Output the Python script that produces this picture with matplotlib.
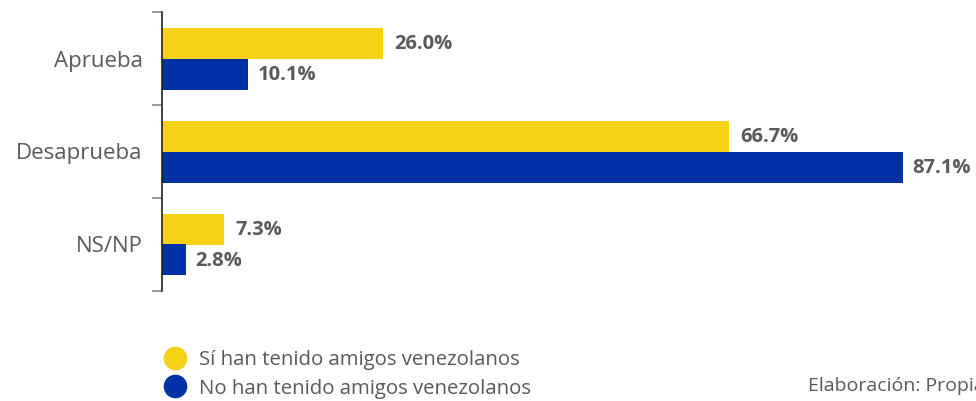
import matplotlib
matplotlib.use("Agg")
import matplotlib.pyplot as plt
from matplotlib.lines import Line2D
import numpy as np

categories = ["Aprueba", "Desaprueba", "NS/NP"]
si_values = [26.0, 66.7, 7.3]
no_values = [10.1, 87.1, 2.8]
series_names = ["Sí han tenido amigos venezolanos", "No han tenido amigos venezolanos"]
source_text = "Elaboración: Propia"

YELLOW = "#F6D115"
BLUE = "#0031A6"
GRAY = "#595959"
FONT = ['Open Sans', 'DejaVu Sans']

plt.rcParams['font.family'] = FONT

fig = plt.figure(figsize=(9.76, 4.01), dpi=100)
ax = fig.add_axes([162/976, 1-291/401, 1-162/976, 279/401])

y = np.arange(len(categories))
h = 1/3
ax.barh(y - h/2, si_values, height=h, color=YELLOW)
ax.barh(y + h/2, no_values, height=h, color=BLUE)

for yi, v in zip(y, si_values):
    ax.text(v + 1.3, yi - h/2 + 0.01, f"{v:.1f}%", va='center', ha='left',
            fontsize=14.5, fontweight='bold', color=GRAY)
for yi, v in zip(y, no_values):
    ax.text(v + 1.1, yi + h/2 + 0.01, f"{v:.1f}%", va='center', ha='left',
            fontsize=14.5, fontweight='bold', color=GRAY)

ax.set_xlim(0, 87.1 * (976-162) / (903-162))
ax.set_ylim(2.5, -0.5)

ax.set_yticks([-0.5, 0.5, 1.5, 2.5])
ax.set_yticklabels([])
ax.set_yticks(y, minor=True)
ax.set_yticklabels(categories, minor=True)
ax.tick_params(axis='y', which='major', length=7, width=1.2, color='#888888')
ax.tick_params(axis='y', which='minor', length=0, pad=14, labelsize=16, labelcolor=GRAY)

ax.set_xticks([])
for s in ['top', 'right', 'bottom']:
    ax.spines[s].set_visible(False)
ax.spines['left'].set_color('#222222')
ax.spines['left'].set_linewidth(1.2)

handles = [Line2D([], [], marker='o', ls='', color=YELLOW, markersize=16),
           Line2D([], [], marker='o', ls='', color=BLUE, markersize=16)]
leg = fig.legend(handles, series_names, loc='upper left',
                 bbox_to_anchor=(142/976, 1-332/401), frameon=False,
                 handletextpad=0.5, labelspacing=0.4, handlelength=1.4,
                 prop={'family': FONT, 'size': 14.7})
for t in leg.get_texts():
    t.set_color(GRAY)

fig.text(808/976, 1-386/401, source_text, ha='left', va='center',
         fontsize=14, color=GRAY)

fig.savefig("out.png", dpi=100)
